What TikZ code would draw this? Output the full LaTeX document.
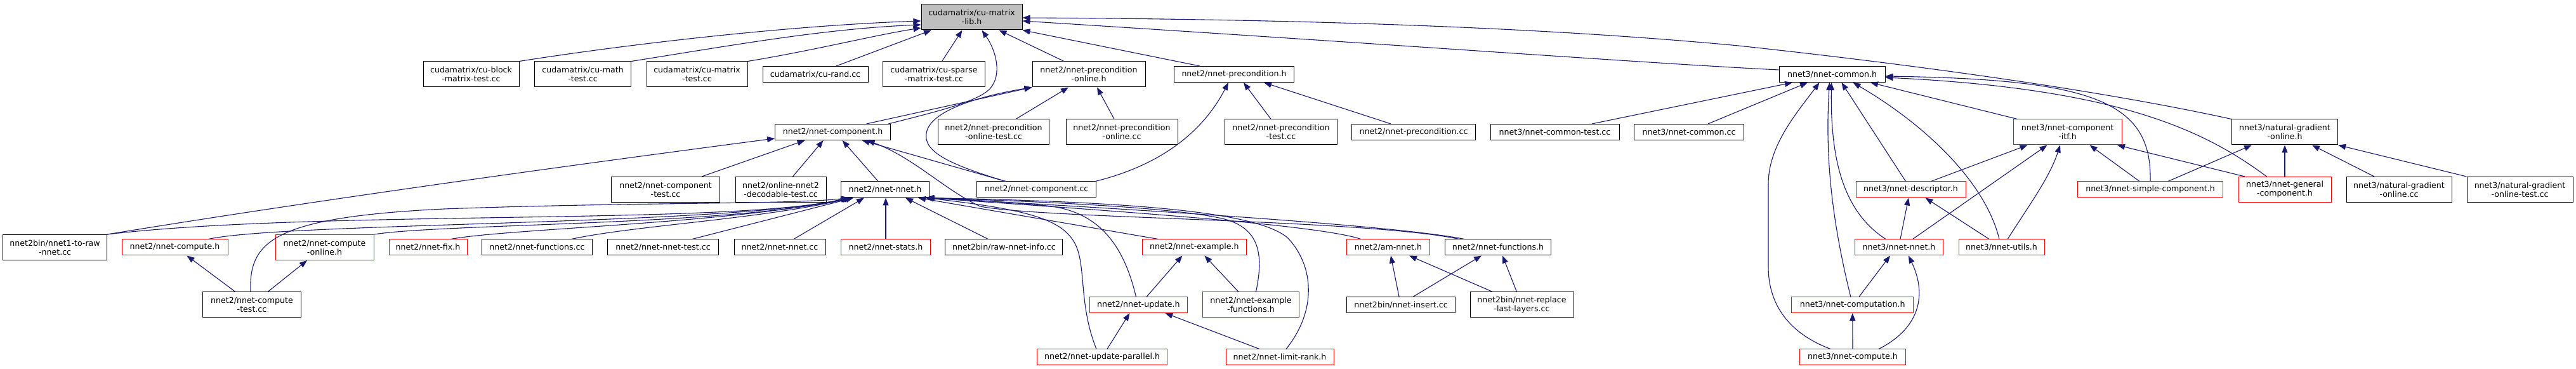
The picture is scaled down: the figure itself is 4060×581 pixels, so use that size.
\documentclass[tikz,border=0pt]{standalone}
\usepackage{fontspec}
\newfontfamily\dvs{DejaVu Sans}
\usetikzlibrary{arrows.meta,calc}
\definecolor{edgeblue}{HTML}{191970}
\definecolor{rootgray}{HTML}{BFBFBF}
\newcommand\nodefont{\dvs\fontsize{6.3}{7}\selectfont}
\tikzset{
  box/.style={draw=black, fill=white, line width=0.5pt, font=\nodefont, align=center, inner sep=0pt, minimum height=12.5pt, text=black},
  tall/.style={minimum height=20pt},
  hot/.style={draw=red},
  root/.style={fill=rootgray},
  e/.style={draw=edgeblue, line width=0.55pt, -{Triangle[length=6pt,width=4.5pt]}}
}
\begin{document}
\begin{tikzpicture}[x=0.5pt,y=-0.5pt]
\useasboundingbox (0,0) rectangle (4060,581);
% row 1
\node[box,tall,root,minimum width=79.5pt] (lib) at (1531.5,27) {cudamatrix/cu-matrix\\-lib.h};
% row 2
\node[box,tall,minimum width=75.5pt] (cublock) at (742.5,117) {cudamatrix/cu-block\\-matrix-test.cc};
\node[box,tall,minimum width=76pt] (cumath) at (918.6,117) {cudamatrix/cu-math\\-test.cc};
\node[box,tall,minimum width=79.5pt] (cumattest) at (1098.5,117) {cudamatrix/cu-matrix\\-test.cc};
\node[box,minimum width=83pt] (curand) at (1285,117) {cudamatrix/cu-rand.cc};
\node[box,tall,minimum width=80.5pt] (cusparse) at (1472,117) {cudamatrix/cu-sparse\\-matrix-test.cc};
\node[box,tall,minimum width=89pt] (preconon) at (1716,117) {nnet2/nnet-precondition\\-online.h};
\node[box,minimum width=94.25pt] (precond) at (1945,117) {nnet2/nnet-precondition.h};
\node[box,minimum width=83.5pt] (common3) at (2887.5,117) {nnet3/nnet-common.h};
% row 3
\node[box,minimum width=91pt] (comp2) at (1312.6,208) {nnet2/nnet-component.h};
\node[box,tall,minimum width=87.5pt] (preconontest) at (1566,208) {nnet2/nnet-precondition\\-online-test.cc};
\node[box,tall,minimum width=88pt] (precononcc) at (1768,208) {nnet2/nnet-precondition\\-online.cc};
\node[box,tall,minimum width=88.25pt] (precondtest) at (2019,208) {nnet2/nnet-precondition\\-test.cc};
\node[box,minimum width=97.5pt] (precondcc) at (2228,208) {nnet2/nnet-precondition.cc};
\node[box,minimum width=101.5pt] (common3test) at (2450.5,208) {nnet3/nnet-common-test.cc};
\node[box,minimum width=86.3pt] (common3cc) at (2662,208) {nnet3/nnet-common.cc};
\node[box,tall,hot,minimum width=85.5pt] (itf) at (3258.5,208) {nnet3/nnet-component\\-itf.h};
\node[box,tall,minimum width=83.7pt] (natgrad) at (3601,208) {nnet3/natural-gradient\\-online.h};
% row 4
\node[box,tall,minimum width=85.25pt] (comptest) at (1049,298.5) {nnet2/nnet-component\\-test.cc};
\node[box,tall,minimum width=71.5pt] (online2) at (1230.5,298.5) {nnet2/online-nnet2\\-decodable-test.cc};
\node[box,minimum width=69.25pt] (nnet2) at (1395,298.5) {nnet2/nnet-nnet.h};
\node[box,minimum width=94pt] (compcc) at (1633.7,298.5) {nnet2/nnet-component.cc};
\node[box,hot,minimum width=86.5pt] (descr) at (3011.5,298.5) {nnet3/nnet-descriptor.h};
\node[box,hot,minimum width=114.75pt] (simple) at (3389,298.5) {nnet3/nnet-simple-component.h};
\node[box,tall,hot,minimum width=73pt] (general) at (3601,298.5) {nnet3/nnet-general\\-component.h};
\node[box,tall,minimum width=83pt] (natgradcc) at (3781,298.5) {nnet3/natural-gradient\\-online.cc};
\node[box,tall,minimum width=83.5pt] (natgradtest) at (3971.5,298.5) {nnet3/natural-gradient\\-online-test.cc};
% row 5
\node[box,tall,minimum width=82pt] (n1raw) at (86.6,389.5) {nnet2bin/nnet1-to-raw\\-nnet.cc};
\node[box,hot,minimum width=83.5pt] (compute2) at (275.5,389.5) {nnet2/nnet-compute.h};
\node[box,tall,hot,minimum width=77.5pt] (computeon) at (511.5,389.5) {nnet2/nnet-compute\\-online.h};
\node[box,hot,minimum width=61.5pt] (fix) at (674.5,389.5) {nnet2/nnet-fix.h};
\node[box,minimum width=87pt] (funccc) at (846.5,389.5) {nnet2/nnet-functions.cc};
\node[box,minimum width=87.5pt] (nnettest) at (1045,389.5) {nnet2/nnet-nnet-test.cc};
\node[box,minimum width=72pt] (nnetcc) at (1229,389.5) {nnet2/nnet-nnet.cc};
\node[box,hot,minimum width=70.5pt] (stats) at (1396,389.5) {nnet2/nnet-stats.h};
\node[box,minimum width=92.5pt] (rawinfo) at (1582.4,389.5) {nnet2bin/raw-nnet-info.cc};
\node[box,hot,minimum width=82.3pt] (example) at (1882.4,389.5) {nnet2/nnet-example.h};
\node[box,hot,minimum width=65.5pt] (amnnet) at (2188,389.5) {nnet2/am-nnet.h};
\node[box,minimum width=83.25pt] (func2h) at (2361,389.5) {nnet2/nnet-functions.h};
\node[box,hot,minimum width=69.5pt] (nnet3) at (2993,389.5) {nnet3/nnet-nnet.h};
\node[box,hot,minimum width=67.5pt] (utils) at (3154.5,389.5) {nnet3/nnet-utils.h};
% row 6
\node[box,tall,minimum width=77.5pt] (computetest) at (397,480) {nnet2/nnet-compute\\-test.cc};
\node[box,hot,minimum width=77.35pt] (update) at (1794.4,480) {nnet2/nnet-update.h};
\node[box,tall,hot,minimum width=76pt] (exfunc) at (1971.5,480) {nnet2/nnet-example\\-functions.h};
\node[box,minimum width=85.5pt] (insert) at (2208,480) {nnet2bin/nnet-insert.cc};
\node[box,tall,minimum width=81.5pt] (replace) at (2398.5,480) {nnet2bin/nnet-replace\\-last-layers.cc};
\node[box,hot,minimum width=95.75pt] (computation) at (2919.7,480) {nnet3/nnet-computation.h};
% row 7
\node[box,hot,minimum width=102.5pt] (parallel) at (1737,562.5) {nnet2/nnet-update-parallel.h};
\node[box,hot,minimum width=85pt] (limit) at (2017,562.5) {nnet2/nnet-limit-rank.h};
\node[box,hot,minimum width=83.5pt] (compute3) at (2920,562.5) {nnet3/nnet-compute.h};

% ---- edges into cu-matrix-lib.h
\draw[e] (cublock.north east) .. controls (1000,68) and (1250,40) .. ($(lib.west)+(0,6)$);
\draw[e] (cumath.north east) .. controls (1150,72) and (1300,45) .. ($(lib.west)+(0,12)$);
\draw[e] (cumattest.north east) .. controls (1280,80) and (1380,55) .. ($(lib.west)+(0,17)$);
\draw[e] ($(curand.north)+(33,0)$) -- ($(lib.south)+(-63.5,0)$);
\draw[e] ($(cusparse.north)+(12.6,0)$) -- ($(lib.south)+(-15,0)$);
\draw[e] ($(comp2.north east)+(-4,0)$) .. controls (1480,175) and (1540,160) .. (1560,140) .. controls (1580,118) and (1570,80) .. ($(lib.south)+(16,0)$);
\draw[e] ($(preconon.north)+(-39,0)$) -- ($(lib.south)+(43,0)$);
\draw[e] ($(precond.north)+(-54,0)$) -- (lib.south east);
\draw[e] ($(common3.west)+(0,-7)$) .. controls (2600,100) and (2200,70) .. ($(lib.east)+(0,6)$);
\draw[e] (natgrad.north west) .. controls (3300,140) and (3000,100) .. (2740,72) .. controls (2400,40) and (2000,30) .. ($(lib.east)+(0,1)$);

% ---- nnet-precondition-online.h
\draw[e] ($(comp2.north)+(53,0)$) -- (preconon.south west);
\draw[e] ($(compcc.north)+(-49,0)$) .. controls (1500,260) and (1455,240) .. (1460,210) .. controls (1465,175) and (1540,152) .. (preconon.south west);
\draw[e] ($(preconontest.north)+(35,0)$) -- ($(preconon.south)+(-32,0)$);
\draw[e] ($(precononcc.north)+(-12,0)$) -- ($(preconon.south)+(13,0)$);

% ---- nnet-precondition.h
\draw[e] ($(compcc.north east)+(-2,0)$) .. controls (1850,255) and (1905,190) .. ($(precond.south)+(-9,0)$);
\draw[e] ($(precondtest.north)+(-16,0)$) -- ($(precond.south)+(15,0)$);
\draw[e] ($(precondcc.north)+(-36,0)$) -- ($(precond.south)+(47,0)$);

% ---- nnet-component.h
\draw[e] (n1raw.north east) .. controls (500,315) and (900,260) .. ($(comp2.south west)+(0,-3)$);
\draw[e] ($(comptest.north)+(57,0)$) -- ($(comp2.south)+(-44,0)$);
\draw[e] ($(online2.north)+(19,0)$) -- ($(comp2.south)+(-15,0)$);
\draw[e] ($(nnet2.north)+(-11,0)$) -- ($(comp2.south)+(15,0)$);
\draw[e] ($(compcc.north)+(-49,0)$) -- ($(comp2.south)+(46,0)$);
\draw[e] ($(func2h.north)+(-61,0)$) .. controls (2150,345) and (1650,345) .. (1545,325) .. controls (1490,300) and (1440,248) .. ($(comp2.south)+(54,0)$);

% ---- nnet2/nnet-nnet.h
\draw[e] (n1raw.north east) .. controls (500,330) and (1150,355) .. ($(nnet2.south west)+(12,0)$);
\draw[e] ($(compute2.north)+(53,0)$) .. controls (450,350) and (1150,355) .. ($(nnet2.south west)+(13,0)$);
\draw[e] (computeon.north east) .. controls (700,352) and (1150,355) .. ($(nnet2.south west)+(14,0)$);
\draw[e] ($(fix.north)+(36,0)$) .. controls (800,360) and (1150,352) .. ($(nnet2.south west)+(15,0)$);
\draw[e] ($(funccc.north)+(54,0)$) .. controls (1000,355) and (1200,345) .. ($(nnet2.south west)+(17,0)$);
\draw[e] ($(nnettest.north)+(46,0)$) -- ($(nnet2.south west)+(20,0)$);
\draw[e] ($(nnetcc.north)+(22,0)$) -- ($(nnet2.south)+(-33,0)$);
\draw[e] ($(computetest.north)+(-2,0)$) .. controls (392,380) and (430,342) .. (700,329) .. controls (1000,318) and (1250,322) .. ($(nnet2.south west)+(12,0)$);
\draw[e] (stats.north) -- (stats.north |- nnet2.south);
\draw[e] ($(rawinfo.north)+(-25,0)$) -- ($(nnet2.south)+(32,0)$);
\draw[e] ($(example.north)+(-57,0)$) -- ($(nnet2.south)+(52,0)$);
\draw[e] ($(update.north)+(-4,0)$) .. controls (1772,390) and (1735,333) .. (1650,324) .. controls (1560,316) and (1500,313) .. ($(nnet2.south east)+(-6,0)$);
\draw[e] ($(parallel.north)+(-9,0)$) .. controls (1700,480) and (1712,420) .. (1695,385) .. controls (1675,345) and (1620,330) .. ($(nnet2.south east)+(-6,0)$);
\draw[e] ($(exfunc.north)+(8,0)$) .. controls (1992,400) and (1985,360) .. (1930,345) .. controls (1850,325) and (1600,316) .. ($(nnet2.south east)+(-5,0)$);
\draw[e] ($(limit.north)+(10,0)$) .. controls (2075,490) and (2072,420) .. (2030,375) .. controls (1985,335) and (1800,318) .. ($(nnet2.south east)+(-5,0)$);
\draw[e] ($(amnnet.north)+(-43,0)$) .. controls (2080,355) and (1800,335) .. ($(nnet2.south east)+(-4,0)$);
\draw[e] ($(func2h.north)+(-53,0)$) .. controls (2200,355) and (1800,330) .. ($(nnet2.south east)+(-4,0)$);

% ---- other nnet2
\draw[e] ($(computetest.north)+(-26,0)$) -- ($(compute2.south)+(19,0)$);
\draw[e] ($(computetest.north)+(25,0)$) -- ($(computeon.south)+(-27.5,0)$);
\draw[e] ($(update.north)+(13,0)$) -- ($(example.south)+(-19,0)$);
\draw[e] ($(exfunc.north)+(-19.5,0)$) -- ($(example.south)+(16,0)$);
\draw[e] ($(parallel.north)+(8,0)$) -- ($(update.south)+(-14,0)$);
\draw[e] ($(limit.north)+(-32,0)$) -- ($(update.south)+(42,0)$);
\draw[e] ($(insert.north)+(-3,0)$) -- ($(amnnet.south)+(4,0)$);
\draw[e] ($(insert.north)+(19.5,0)$) -- ($(func2h.south)+(-26,0)$);
\draw[e] ($(replace.north)+(-46,0)$) -- ($(amnnet.south)+(33,0)$);
\draw[e] ($(replace.north)+(-8,0)$) -- ($(func2h.south)+(7,0)$);

% ---- nnet3/nnet-common.h
\draw[e] ($(common3test.north)+(58.5,0)$) -- ($(common3.south)+(-62.5,0)$);
\draw[e] ($(common3cc.north)+(30,0)$) -- ($(common3.south)+(-38.5,0)$);
\draw[e] ($(compute3.north)+(-35,0)$) .. controls (2820,525) and (2787,480) .. (2787,420) -- (2787,290) .. controls (2787,230) and (2830,180) .. ($(common3.south)+(-20,0)$);
\draw[e] ($(computation.north)+(-3,0)$) .. controls (2888,350) and (2876,250) .. ($(common3.south)+(-4,0)$);
\draw[e] ($(nnet3.north)+(-21,0)$) .. controls (2900,330) and (2885,240) .. ($(common3.south)+(-1,0)$);
\draw[e] ($(descr.north)+(-8,0)$) -- ($(common3.south)+(15,0)$);
\draw[e] ($(utils.north)+(-3.5,0)$) .. controls (3130,290) and (3040,200) .. ($(common3.south)+(33,0)$);
\draw[e] ($(itf.north west)+(7,0)$) -- ($(common3.south)+(60.5,0)$);
\draw[e] (simple.north) .. controls (3392,160) and (3300,125) .. ($(common3.east)+(0,3)$);
\draw[e] ($(general.north)+(-28.5,0)$) .. controls (3480,210) and (3350,140) .. ($(common3.east)+(0,5)$);

% ---- nnet3/nnet-component-itf.h
\draw[e] ($(descr.north)+(32,0)$) -- ($(itf.south)+(-63,0)$);
\draw[e] ($(nnet3.north)+(21.6,0)$) -- ($(itf.south)+(-32,0)$);
\draw[e] ($(utils.north)+(9.7,0)$) .. controls (3200,320) and (3230,280) .. ($(itf.south)+(-11.5,0)$);
\draw[e] ($(simple.north)+(-17,0)$) -- ($(itf.south)+(35,0)$);
\draw[e] ($(general.north)+(-63,0)$) -- ($(itf.south)+(78.5,0)$);

% ---- nnet3/nnet-descriptor.h
\draw[e] ($(nnet3.north)+(2,0)$) -- ($(descr.south)+(-3.5,0)$);
\draw[e] ($(utils.north)+(-19.5,0)$) -- ($(descr.south)+(23,0)$);

% ---- nnet3/nnet-nnet.h and below
\draw[e] ($(computation.north)+(10.5,0)$) -- ($(nnet3.south)+(-14,0)$);
\draw[e] ($(compute3.north)+(41,0)$) .. controls (3020,520) and (3040,470) .. ($(nnet3.south)+(15,0)$);
\draw[e] (compute3.north) -- (computation.south);

% ---- natural-gradient-online.h
\draw[e] ($(simple.north)+(28,0)$) -- ($(natgrad.south)+(-52,0)$);
\draw[e] (general.north) -- (natgrad.south);
\draw[e] ($(natgradcc.north)+(-39,0)$) -- ($(natgrad.south)+(43,0)$);
\draw[e] (natgradtest.north west) -- (natgrad.south east);
\end{tikzpicture}
\end{document}
